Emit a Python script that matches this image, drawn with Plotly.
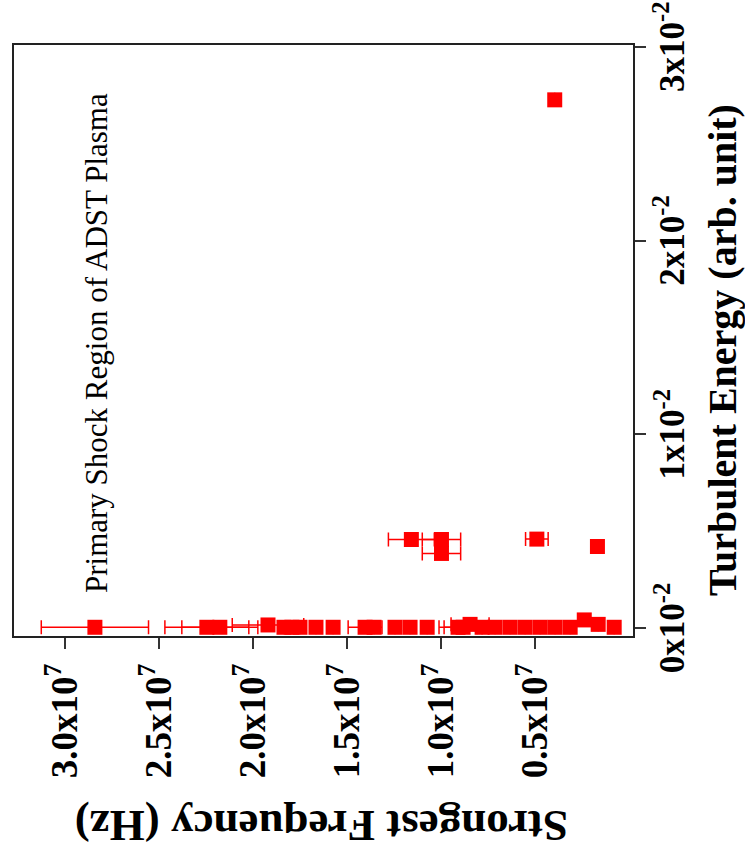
import plotly.graph_objects as go

# Strongest frequency (Hz), turbulent energy (arb. unit), frequency error (Hz)
freq = [1.158e7, 0.998e7, 0.998e7, 0.491e7, 0.169e7, 0.396e7,
        2.840e7, 2.245e7, 2.176e7, 1.920e7, 1.835e7, 1.793e7, 1.750e7,
        1.665e7, 1.574e7, 1.404e7, 1.356e7, 1.245e7, 1.165e7, 1.074e7,
        0.910e7, 0.883e7, 0.846e7, 0.782e7, 0.713e7, 0.633e7, 0.553e7,
        0.473e7, 0.394e7, 0.314e7, 0.239e7, 0.165e7, 0.080e7]
energy = [0.458e-2, 0.458e-2, 0.386e-2, 0.460e-2, 0.422e-2, 2.727e-2,
          0.005e-2, 0.005e-2, 0.005e-2, 0.017e-2, 0.005e-2, 0.005e-2, 0.005e-2,
          0.005e-2, 0.005e-2, 0.005e-2, 0.005e-2, 0.005e-2, 0.005e-2, 0.005e-2,
          0.005e-2, 0.005e-2, 0.020e-2, 0.005e-2, 0.005e-2, 0.005e-2, 0.005e-2,
          0.005e-2, 0.005e-2, 0.005e-2, 0.043e-2, 0.020e-2, 0.005e-2]
freq_err = [0.122e7, 0.102e7, 0.102e7, 0.060e7, 0.0, 0.0,
            0.285e7, 0.223e7, 0.202e7, 0.190e7, 0.0, 0.0, 0.0,
            0.0, 0.0, 0.090e7, 0.0, 0.0, 0.0, 0.0,
            0.101e7, 0.101e7, 0.101e7, 0.0, 0.0, 0.0, 0.0,
            0.0, 0.0, 0.0, 0.0, 0.0, 0.0]

x_ticks = [3.0e7, 2.5e7, 2.0e7, 1.5e7, 1.0e7, 0.5e7]
x_ticktext = ["3.0x10<sup>7</sup>", "2.5x10<sup>7</sup>", "2.0x10<sup>7</sup>",
              "1.5x10<sup>7</sup>", "1.0x10<sup>7</sup>", "0.5x10<sup>7</sup>"]
y_ticks = [0.0, 0.01, 0.02, 0.03]
y_ticktext = ["0x10<sup>-2</sup>", "1x10<sup>-2</sup>", "2x10<sup>-2</sup>", "3x10<sup>-2</sup>"]

SERIF = "Liberation Serif, Times New Roman, serif"
RED = "#FF0000"

fig = go.Figure()
fig.add_trace(go.Scatter(
    x=freq, y=energy, mode="markers",
    marker=dict(symbol="square", size=15, color=RED, line=dict(width=0)),
    error_x=dict(type="data", array=freq_err, visible=True, color=RED,
                 thickness=1.5, width=7),
    showlegend=False,
))

annotations = [
    dict(text="Primary Shock Region of ADST Plasma", textangle=-90,
         xref="paper", yref="paper", x=(96 - 14) / 619, y=(636 - 343) / 591,
         xanchor="center", yanchor="middle", showarrow=False,
         font=dict(family=SERIF, size=31, color="black")),
    dict(text="<b>Turbulent Energy (arb. unit)</b>", textangle=-90,
         xref="paper", yref="paper", x=(722 - 14) / 619, y=(636 - 350) / 591,
         xanchor="center", yanchor="middle", showarrow=False,
         font=dict(family=SERIF, size=40, color="black")),
    dict(text="<b>Strongest Frequency (Hz)</b>", textangle=180,
         xref="paper", yref="paper", x=(322 - 14) / 619, y=(636 - 826) / 591,
         xanchor="center", yanchor="middle", showarrow=False,
         font=dict(family=SERIF, size=45, color="black")),
]
# right-axis tick labels, centred on their ticks
for tv, tt in zip(y_ticks, y_ticktext):
    annotations.append(dict(
        text="<b>" + tt + "</b>", textangle=-90,
        xref="paper", yref="y", x=(670 - 14) / 619, y=tv,
        xanchor="center", yanchor="middle", showarrow=False,
        font=dict(family=SERIF, size=35, color="black")))

fig.update_layout(
    width=745, height=861,
    margin=dict(l=14, r=112, t=45, b=225),
    paper_bgcolor="white", plot_bgcolor="white",
    font=dict(family=SERIF, color="black"),
    xaxis=dict(
        range=[3.27e7, -0.02e7], automargin=False,
        tickvals=x_ticks, ticktext=x_ticktext, tickangle=-90,
        ticks="outside", ticklen=11, tickwidth=1.5, tickcolor="#333",
        tickfont=dict(family=SERIF, size=37, color="black", weight="bold"),
        showline=True, linecolor="#222", linewidth=1.5, mirror=True,
        showgrid=False, zeroline=False,
    ),
    yaxis=dict(
        side="right", automargin=False,
        range=[-0.0004, 0.0301],
        tickvals=y_ticks, showticklabels=False,
        ticks="outside", ticklen=11, tickwidth=1.5, tickcolor="#333",
        showline=True, linecolor="#222", linewidth=1.5, mirror=True,
        showgrid=False, zeroline=False,
    ),
    annotations=annotations,
)

fig.write_html("out.html")
